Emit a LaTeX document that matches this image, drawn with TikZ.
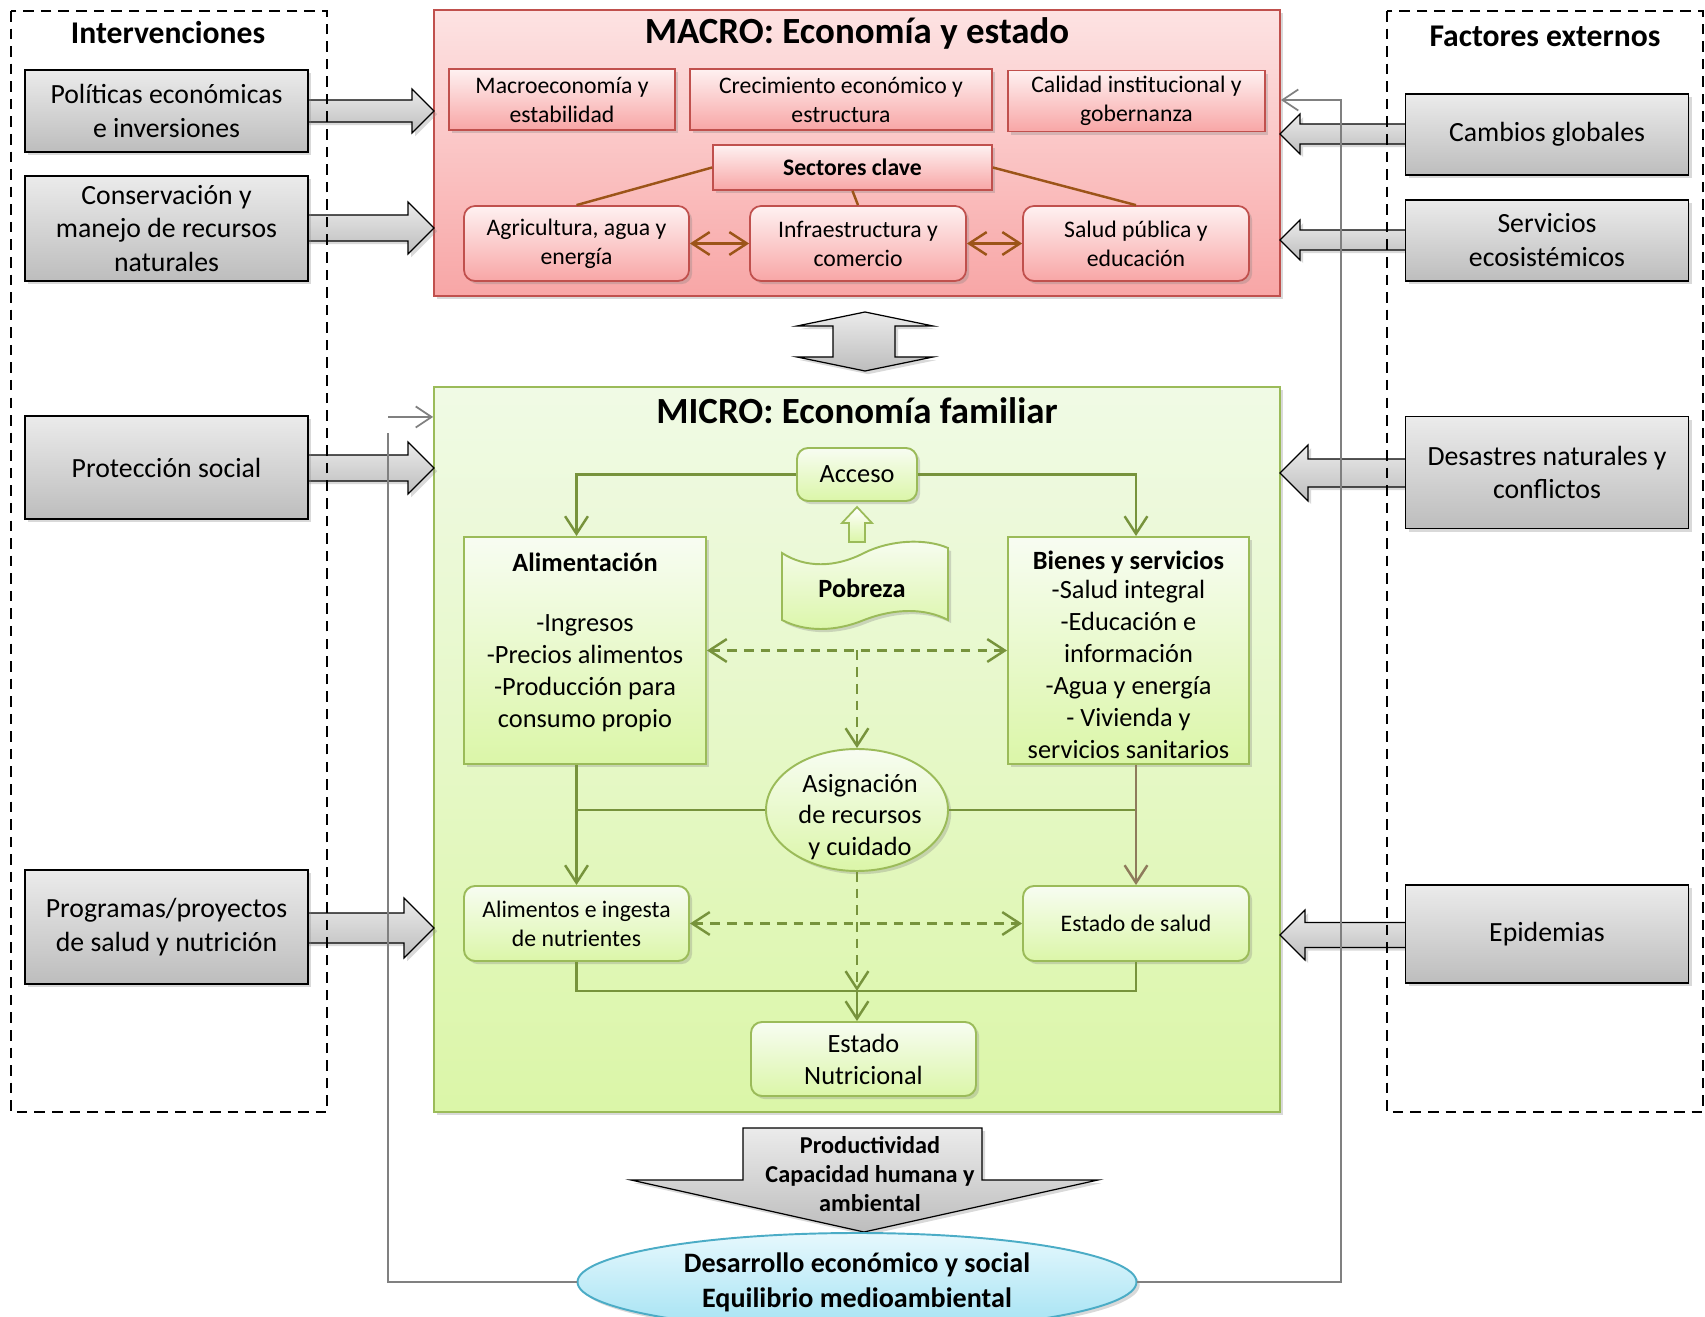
\documentclass[tikz,border=0pt]{standalone}
\usepackage{fontspec}
\setmainfont{Carlito}
\usetikzlibrary{arrows.meta,shapes.geometric,shadows,positioning}

\definecolor{graytop}{HTML}{EBEBEB}
\definecolor{graybot}{HTML}{BDBDBD}
\definecolor{redline}{HTML}{C0504D}
\definecolor{redtop}{HTML}{FDE3E3}
\definecolor{redbot}{HTML}{F8A6A6}
\definecolor{grnline}{HTML}{9BBB59}
\definecolor{grntop}{HTML}{F0FAE5}
\definecolor{grnbot}{HTML}{DBF6A8}
\definecolor{flowgreen}{HTML}{77933C}
\definecolor{flowbrown}{HTML}{8E7B5B}
\definecolor{sectbrown}{HTML}{9C5418}
\definecolor{goalline}{HTML}{4BACC6}
\definecolor{goaltop}{HTML}{E6F8FD}
\definecolor{goalbot}{HTML}{A3E2F3}
\definecolor{fbgray}{HTML}{808080}

\begin{document}
\begin{tikzpicture}[x=0.02cm,y=-0.02cm]
\def\pxu{0.02cm}
\tikzset{
  sz/.style 2 args={minimum width=#1*\pxu,minimum height=#2*\pxu},
  offshadow/.style={drop shadow={shadow xshift=1.8pt,shadow yshift=-1.8pt,opacity=0.3}},
  grbox/.style={draw=black,line width=0.7pt,top color=graytop,bottom color=graybot,offshadow,
    align=center,inner sep=0pt,font=\fontsize{15.8}{19.3}\selectfont},
  barrow/.style={draw=black,line width=0.7pt,top color=graytop,bottom color=graybot,offshadow},
  dashframe/.style={draw=black,line width=1.3pt,dash pattern=on 6pt off 4pt},
  ttl/.style={font=\bfseries\fontsize{18}{22}\selectfont,inner sep=0pt},
  bigttl/.style={font=\bfseries\fontsize{21}{25}\selectfont,inner sep=0pt},
  redframe/.style={draw=redline,line width=1pt,top color=redtop,bottom color=redbot,offshadow},
  redbox/.style={draw=redline,line width=1pt,top color=redtop!50!white,bottom color=redbot,offshadow,
    align=center,inner sep=0pt,font=\fontsize{13.5}{16.5}\selectfont},
  redround/.style={redbox,rounded corners=0.22cm},
  grnframe/.style={draw=grnline,line width=1pt,top color=grntop,bottom color=grnbot,offshadow},
  grnbox/.style={draw=grnline,line width=1.1pt,top color=grntop!50!white,bottom color=grnbot,offshadow,
    align=center,inner sep=0pt,font=\fontsize{15}{18.2}\selectfont},
  grnround/.style={grnbox,rounded corners=0.22cm},
  smalltxt/.style={font=\fontsize{13.5}{16.5}\selectfont},
  boxtxt/.style={align=center,inner sep=0pt,font=\fontsize{15}{18.2}\selectfont},
  flow/.style={draw=flowgreen,line width=1.4pt,-{Straight Barb[length=10pt,width=13pt]}},
  plainflow/.style={draw=flowgreen,line width=1.4pt},
  dflow/.style={flow,dash pattern=on 5.5pt off 4pt},
  ddflow/.style={dflow,{Straight Barb[length=10pt,width=13pt]}-{Straight Barb[length=10pt,width=13pt]}},
  secline/.style={draw=sectbrown,line width=1.4pt},
  secarrow/.style={secline,{Straight Barb[length=10pt,width=13pt]}-{Straight Barb[length=10pt,width=13pt]}},
  fbline/.style={draw=fbgray,line width=1pt},
  fbarrow/.style={fbline,-{Straight Barb[length=9pt,width=12pt]}}
}
\useasboundingbox (0,0) rectangle (1705,1317);
\clip (0,0) rectangle (1705,1317);

% MACRO
\node[redframe,sz={846}{286}] (macro) at (857,153) {};
\node[bigttl] (macrottl) at (857,33) {MACRO: Economía y estado};
\node[redbox,sz={226}{61}] (mac1) at (562,99.5) {Macroeconomía y\\estabilidad};
\node[redbox,sz={302}{61}] (mac2) at (841,99.5) {Crecimiento económico y\\estructura};
\node[redbox,sz={257}{61}] (mac3) at (1136.5,101) {Calidad institucional y\\gobernanza};
\node[redbox,sz={279}{45},font=\bfseries\fontsize{13.5}{16.5}\selectfont] (sect) at (852.5,167.5) {Sectores clave};
\node[redround,sz={225}{75}] (agri) at (576.5,243.5) {Agricultura, agua y\\energía};
\node[redround,sz={216}{75}] (infra) at (858,243.5) {Infraestructura y\\comercio};
\node[redround,sz={226}{75}] (salud) at (1136,243.5) {Salud pública y\\educación};
\draw[secline] (sect.west) -- (agri.north);
\draw[secline] (sect.south) -- (infra.north);
\draw[secline] (sect.east) -- (salud.north);
\draw[secarrow] (agri.east) -- (infra.west);
\draw[secarrow] (infra.east) -- (salud.west);

% MICRO
\node[grnframe,sz={846}{725}] (micro) at (857,749.5) {};
\node[bigttl] (microttl) at (857,411) {MICRO: Economía familiar};
\node[grnround,sz={120}{53}] (acceso) at (857,474.5) {Acceso};
\node[grnbox,sz={242}{227}] (alim) at (585,650.5) {};
\node[boxtxt,anchor=north] (alimtxt) at (585,553)
  {\textbf{Alimentación}\\[16pt]-Ingresos\\-Precios alimentos\\-Producción para\\consumo propio};
\node[grnbox,sz={241}{227}] (bien) at (1128.5,650.5) {};
\node[boxtxt] (bientxt) at (1128.5,655)
  {\textbf{Bienes y servicios}\\[-2pt]-Salud integral\\-Educación e\\información\\-Agua y energía\\- Vivienda y\\servicios sanitarios};
\draw[draw=grnline,line width=1.1pt,top color=grntop!50!white,bottom color=grnbot,offshadow]
  (782,553) .. controls (805,568) and (835,568) .. (864,553) .. controls (890,540) and (925,538) .. (948,548)
  -- (948,620) .. controls (925,608) and (895,608) .. (864,620) .. controls (835,632) and (805,632) .. (782,620) -- cycle;
\node[inner sep=0pt,font=\bfseries\fontsize{15}{18.2}\selectfont] (pob) at (862,588) {Pobreza};
\draw[draw=grnline,line width=1pt,top color=white,bottom color=grnbot]
  (857,507) -- (872,523) -- (865,523) -- (865,542) -- (849,542) -- (849,523) -- (842,523) -- cycle;
\node[ellipse,draw=grnline,line width=1.1pt,top color=grntop!50!white,bottom color=grnbot,offshadow,
  inner sep=0pt,sz={182}{122}] (asig) at (857,810) {};
\node[boxtxt,font=\fontsize{15}{18}\selectfont] (asigtxt) at (860,817) {Asignación\\de recursos\\y cuidado};
\node[grnround,sz={225}{75},smalltxt] (alnut) at (576.5,923.5) {Alimentos e ingesta\\de nutrientes};
\node[grnround,sz={226}{75},smalltxt] (esal) at (1136,923.5) {Estado de salud};
\node[grnround,sz={225}{74}] (enut) at (863.5,1059) {Estado\\Nutricional};
\coordinate (join) at (857,991);

\draw[flow] (acceso.west) -| (alnut.north |- alim.north);
\draw[flow] (acceso.east) -| (esal.north |- bien.north);
\draw[ddflow] (alim.east) -- (bien.west);
\draw[dflow] (asig.north |- alim.east) -- (asig.north);
\draw[flow] (alnut.north |- alim.south) -- (alnut.north);
\draw[plainflow] (asig.west) -- (alnut.north |- asig.west);
\draw[plainflow] (asig.east) -- (esal.north |- asig.east);
\draw[flow,draw=flowbrown] (esal.north |- bien.south) -- (esal.north);
\draw[ddflow] (alnut.east) -- (esal.west);
\draw[plainflow] (alnut.south) |- (join) -| (esal.south);
\draw[dflow] (asig.south) -- (join);
\draw[flow] (join) -- (join |- enut.north);

% flechas de bloque
\foreach \y/\w in {111/11,228/13,468/13,928/15}
{
  \draw[barrow] (200,\y-\w) -- (434-2*\w,\y-\w) -- (434-2*\w,\y-2*\w) -- (434,\y)
    -- (434-2*\w,\y+2*\w) -- (434-2*\w,\y+\w) -- (200,\y+\w) -- cycle;
}
\foreach \y/\w in {134/10,240/10,473/14,935/12.5}
{
  \draw[barrow] (1500,\y-\w) -- (1280+2*\w,\y-\w) -- (1280+2*\w,\y-2*\w) -- (1280,\y)
    -- (1280+2*\w,\y+2*\w) -- (1280+2*\w,\y+\w) -- (1500,\y+\w) -- cycle;
}
\draw[barrow] (865,312) -- (933,326) -- (895,326) -- (895,357) -- (933,357) -- (865,371)
  -- (797,357) -- (833,357) -- (833,326) -- (797,326) -- cycle;

% intervenciones
\node[grbox,sz={283}{82}] (pol) at (166.5,111) {Políticas económicas\\e inversiones};
\node[grbox,sz={283}{105}] (cons) at (166.5,228.5) {Conservación y\\manejo de recursos\\naturales};
\node[grbox,sz={283}{103}] (prot) at (166.5,467.5) {Protección social};
\node[grbox,sz={283}{114}] (prog) at (166.5,927) {Programas/proyectos\\de salud y nutrición};
% factores externos
\node[grbox,sz={283}{81}] (camb) at (1547,134.5) {Cambios globales};
\node[grbox,sz={283}{81}] (serv) at (1547,240.5) {Servicios\\ecosistémicos};
\node[grbox,sz={283}{112}] (desa) at (1547,472.5) {Desastres naturales y\\conflictos};
\node[grbox,sz={283}{98}] (epid) at (1547,934) {Epidemias};

\draw[dashframe] (11,11) rectangle (327,1112);
\draw[dashframe] (1387,11) rectangle (1703,1112);
\node[ttl] (intv) at (168,33) {Intervenciones};
\node[ttl] (fact) at (1545,36) {Factores externos};

% resultado
\draw[barrow] (743,1128) -- (982,1128) -- (982,1180) -- (1098,1180) -- (864,1232) -- (631,1180) -- (743,1180) -- cycle;
\node[align=center,inner sep=0pt,font=\bfseries\fontsize{13.8}{16.5}\selectfont] (prod) at (870,1174)
  {Productividad\\Capacidad humana y\\ambiental};
\node[ellipse,draw=goalline,line width=1.1pt,top color=goaltop,bottom color=goalbot,offshadow,inner sep=0pt,
  sz={559}{98},align=center,font=\bfseries\fontsize{16}{19.9}\selectfont] (goal) at (857,1282)
  {Desarrollo económico y social\\Equilibrio medioambiental};
\coordinate (lbend) at (388,433);
\coordinate (lstart) at (388,417);
\coordinate (rtop) at (1341,100);
\draw[fbline] (goal.west) -| (lbend);
\draw[fbarrow] (lstart) -- (lstart -| micro.west);
\draw[fbarrow] (goal.east) -| (rtop) -- (rtop -| macro.east);
\end{tikzpicture}
\end{document}
